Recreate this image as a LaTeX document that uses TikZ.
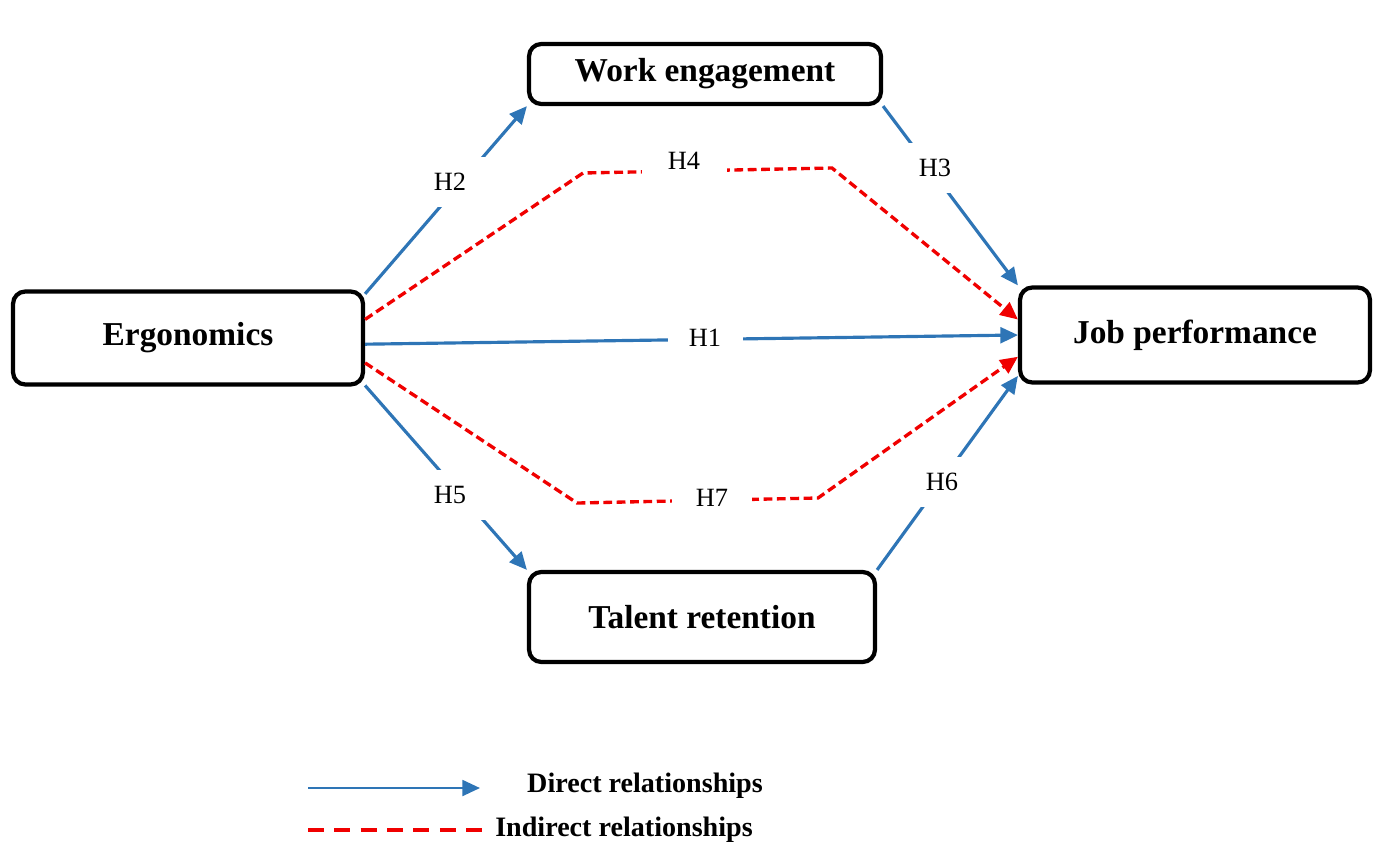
\documentclass[tikz,border=0pt]{standalone}
\usepackage{fontspec}
\setmainfont{Liberation Serif}
\definecolor{directblue}{RGB}{46, 117, 182}
\definecolor{indirectred}{RGB}{240, 0, 0}
\usetikzlibrary{arrows.meta, positioning}

\begin{document}
\begin{tikzpicture}[x=0.02cm, y=-0.02cm,
  construct/.style={draw=black, line width=2.4pt, rounded corners=7pt, inner sep=0pt, font=\fontsize{19}{23}\selectfont\bfseries},
  direct/.style={draw=directblue, line width=1.8pt, -{Triangle[length=10pt, width=9pt]}},
  indirect/.style={draw=indirectred, line width=1.9pt, dash pattern=on 5pt off 2.6pt, -{Triangle[length=10pt, width=9pt]}},
  hyp/.style={fill=white, inner sep=0pt, minimum width=1.5cm, minimum height=1cm, font=\fontsize{15}{17}\selectfont},
  legendtext/.style={font=\fontsize{16}{19}\selectfont\bfseries}]
  \useasboundingbox (0,0) rectangle (1379,843);

  \node[construct, minimum width=7.0cm, minimum height=1.86cm] (ergo) at (188,338) {Ergonomics};
  \node[construct, minimum width=7.04cm, minimum height=1.2cm] (engage) at (705,74) {Work engagement};
  \node[construct, minimum width=7.0cm, minimum height=1.9cm] (perf) at (1195,335) {Job performance};
  \node[construct, minimum width=6.92cm, minimum height=1.8cm] (talent) at (702,617) {Talent retention};

  \coordinate (h4left) at (583,173);
  \coordinate (h4right) at (832,168);
  \coordinate (h7left) at (577,503);
  \coordinate (h7right) at (818,498);

  \draw[indirect] (ergo.6) -- (h4left) -- (h4right) -- (perf.175);
  \draw[indirect] (ergo.352) -- (h7left) -- (h7right) -- (perf.187);
  \draw[direct] (ergo.14) -- (engage.south west);
  \draw[direct] (engage.south east) -- (perf.north west);
  \draw[direct] (ergo.358) -- (perf.west);
  \draw[direct] (ergo.345) -- (talent.north west);
  \draw[direct] (talent.north east) -- (perf.193);

  \node[hyp] (h1) at (705,338) {H1};
  \node[hyp] (h2) at (450,182) {H2};
  \node[hyp] (h3) at (935,168) {H3};
  \node[hyp, minimum width=1.7cm] (h4) at (684,161) {H4};
  \node[hyp] (h5) at (450,495) {H5};
  \node[hyp] (h6) at (942,482) {H6};
  \node[hyp, minimum width=1.6cm] (h7) at (712,498) {H7};

  \coordinate (dstart) at (308,788);
  \coordinate (dend) at (480,788);
  \coordinate (istart) at (308,830);
  \coordinate (iend) at (485,830);
  \draw[direct, line width=1.4pt] (dstart) -- (dend);
  \draw[draw=indirectred, line width=2.4pt, dash pattern=on 9pt off 6pt] (istart) -- (iend);
  \node[legendtext] (directlbl) at (645,786) {Direct relationships};
  \node[legendtext] (indirectlbl) at (624,830) {Indirect relationships};
\end{tikzpicture}
\end{document}
